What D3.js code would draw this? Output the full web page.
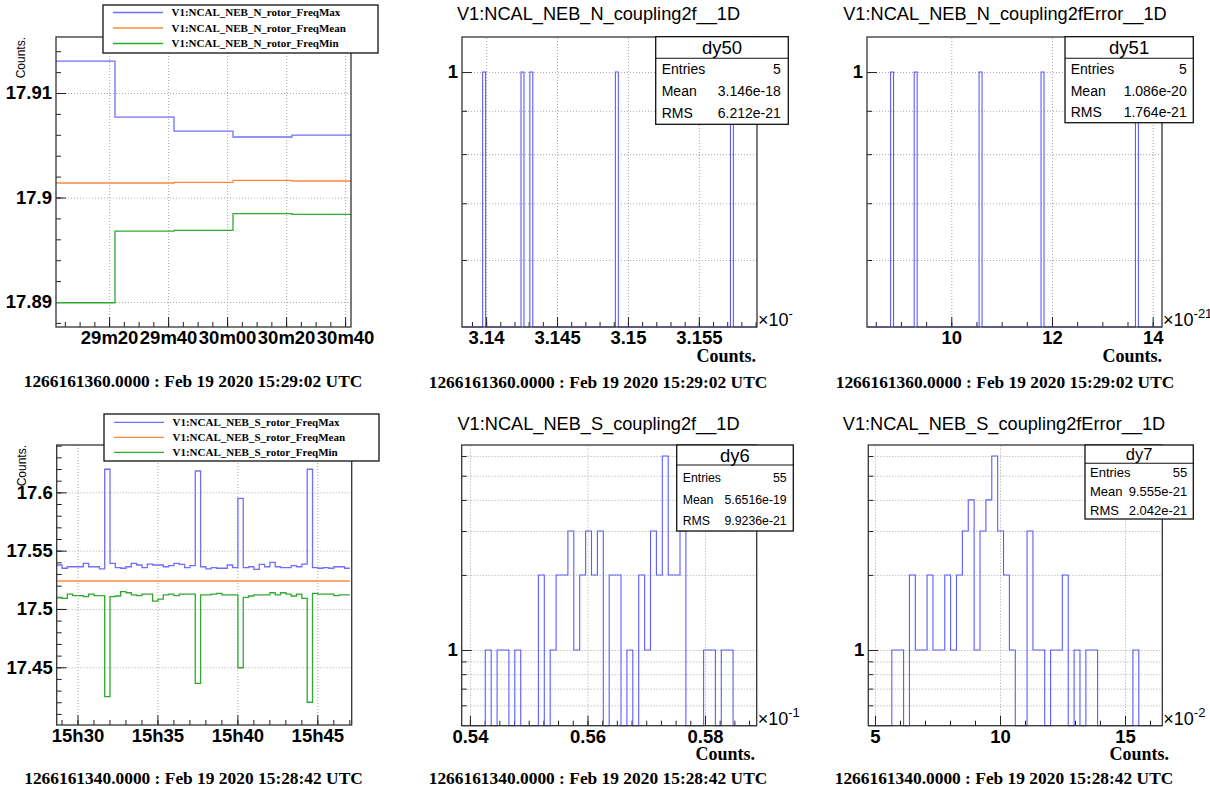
<!DOCTYPE html>
<html>
<head>
<meta charset="utf-8">
<script src="https://cdn.jsdelivr.net/npm/d3@7"></script>
<style>
body { margin: 0; background: #fff; }
svg { display: block; font-family: "Liberation Sans", Arial, sans-serif; }
.grid line { stroke: #a8a8a8; stroke-dasharray: 1,2; }
.grid path, .ax path { display: none; }
.ax line { stroke: #222; }
.ax text { font-family: "Liberation Sans", Arial, sans-serif; font-size: 18.5px; font-weight: bold; fill: #000; }
.title { font-size: 18.2px; }
.date { font-family: "Liberation Serif", "Times New Roman", serif; font-weight: bold; font-size: 17.4px; }
.xtitle { font-family: "Liberation Serif", "Times New Roman", serif; font-weight: bold; font-size: 18px; }
.ytitle { font-size: 12px; }
.leg text { font-family: "Liberation Serif", "Times New Roman", serif; font-weight: bold; font-size: 11px; }
.frame { fill: none; stroke: #333; stroke-width: 1.3; }
</style>
</head>
<body>
<script>
// ---- data ----
var binSeconds = 20;
var nStart = "2020-02-19T15:29:02Z";
var sStart = "2020-02-19T15:28:42Z";

var nFreqMax  = [17.91306, 17.90770, 17.90636, 17.90579, 17.90598];
var nFreqMean = [17.90139, 17.90139, 17.90145, 17.90165, 17.90158];
var nFreqMin  = [17.88993, 17.89679, 17.89686, 17.89845, 17.89839];

var sFreqMax = [17.5377, 17.5349, 17.5362, 17.5362, 17.5362, 17.5391, 17.5362, 17.5362, 17.5343, 17.6198,
  17.5391, 17.5354, 17.5349, 17.5362, 17.5391, 17.5377, 17.5354, 17.5385, 17.5377, 17.5377,
  17.5362, 17.5371, 17.5391, 17.5383, 17.5354, 17.5371, 17.6183, 17.5362, 17.5343, 17.5354,
  17.5349, 17.5349, 17.5377, 17.5354, 17.5949, 17.5354, 17.5362, 17.5340, 17.5383, 17.5362,
  17.5400, 17.5362, 17.5354, 17.5354, 17.5371, 17.5362, 17.5385, 17.6198, 17.5354, 17.5349,
  17.5354, 17.5349, 17.5362, 17.5362, 17.5349];
var sFreqMean = [17.524, 17.524, 17.524, 17.524, 17.524, 17.524, 17.524, 17.524, 17.524, 17.524,
  17.524, 17.524, 17.524, 17.524, 17.524, 17.524, 17.524, 17.524, 17.524, 17.524,
  17.524, 17.524, 17.524, 17.524, 17.524, 17.524, 17.524, 17.524, 17.524, 17.524,
  17.524, 17.524, 17.524, 17.524, 17.524, 17.524, 17.524, 17.524, 17.524, 17.524,
  17.524, 17.524, 17.524, 17.524, 17.524, 17.524, 17.524, 17.524, 17.524, 17.524,
  17.524, 17.524, 17.524, 17.524, 17.524];
var sFreqMin = [17.5100, 17.5091, 17.5128, 17.5114, 17.5114, 17.5105, 17.5128, 17.5114, 17.5114, 17.4248,
  17.5105, 17.5111, 17.5148, 17.5139, 17.5120, 17.5114, 17.5128, 17.5128, 17.5068, 17.5085,
  17.5120, 17.5128, 17.5114, 17.5128, 17.5128, 17.5128, 17.4362, 17.5120, 17.5120, 17.5128,
  17.5134, 17.5120, 17.5120, 17.5120, 17.4496, 17.5100, 17.5111, 17.5120, 17.5120, 17.5120,
  17.5139, 17.5120, 17.5139, 17.5128, 17.5111, 17.5128, 17.5091, 17.4200, 17.5134, 17.5128,
  17.5128, 17.5128, 17.5114, 17.5120, 17.5120];

// histogram entries (top row) and bin counts (bottom row)
var nCoupling = [3.13992, 3.14266, 3.14329, 3.14921, 3.15734];      // x1e-18
var nCouplingError = [8.802, 9.313, 10.600, 11.795, 13.708];        // x1e-21
var sCouplingCounts = [0, 0, 0, 0, 1, 0, 1, 1, 0, 1, 0, 0, 0, 2, 0, 1, 2, 2, 3, 1,
  2, 3, 2, 3, 0, 2, 2, 0, 1, 0, 2, 1, 3, 2, 6, 2, 2, 3, 0, 0,
  0, 1, 1, 0, 1, 1, 0, 0, 0, 0];
var sCouplingErrorCounts = [0, 0, 0, 0, 1, 1, 0, 2, 1, 1, 2, 1, 1, 2, 1, 2, 3, 4, 1, 3,
  4, 6, 3, 2, 1, 0, 0, 3, 1, 1, 0, 1, 1, 2, 0, 1, 0, 1, 1, 0,
  0, 0, 0, 0, 0, 1, 0, 0, 0, 0];

var nNames = ["V1:NCAL_NEB_N_rotor_FreqMax", "V1:NCAL_NEB_N_rotor_FreqMean", "V1:NCAL_NEB_N_rotor_FreqMin"];
var sNames = ["V1:NCAL_NEB_S_rotor_FreqMax", "V1:NCAL_NEB_S_rotor_FreqMean", "V1:NCAL_NEB_S_rotor_FreqMin"];
var seriesColors = ["#6f6fff", "#ff8838", "#2eaa2e"];
var histColor = "#5c5cff";

var nDate = "1266161360.0000 : Feb 19 2020 15:29:02 UTC";
var sDate = "1266161340.0000 : Feb 19 2020 15:28:42 UTC";

var svg = d3.select("body").append("svg").attr("width", 1210).attr("height", 791);

function steps(lo, hi, step) {
  var out = [], k = Math.ceil(lo / step - 1e-9);
  for (; k * step <= hi + 1e-9; k++) out.push(+(k * step).toFixed(10));
  return out;
}

function axes(g, x, y, o) {
  var l = x.range()[0], r = x.range()[1], b = y.range()[0], t = y.range()[1];
  g.append("g").attr("class", "grid").attr("transform", "translate(0," + b + ")")
    .call(d3.axisBottom(x).tickValues(o.xMajor).tickSize(-(b - t)).tickFormat(""));
  g.append("g").attr("class", "grid").attr("transform", "translate(" + l + ",0)")
    .call(d3.axisLeft(y).tickValues(o.yGrid).tickSize(-(r - l)).tickFormat(""));
  g.append("g").attr("class", "ax").attr("transform", "translate(0," + b + ")")
    .call(d3.axisBottom(x).tickValues(o.xMinor).tickSize(-5).tickFormat(""));
  g.append("g").attr("class", "ax").attr("transform", "translate(0," + b + ")")
    .call(d3.axisBottom(x).tickValues(o.xMajor).tickSize(-10).tickPadding(4).tickFormat(o.xFmt));
  g.append("g").attr("class", "ax").attr("transform", "translate(" + l + ",0)")
    .call(d3.axisLeft(y).tickValues(o.yMinor).tickSize(-5).tickFormat(""));
  g.append("g").attr("class", "ax").attr("transform", "translate(" + l + ",0)")
    .call(d3.axisLeft(y).tickValues(o.yMajor).tickSize(-10).tickPadding(4).tickFormat(o.yFmt));
}

function frame(g, x, y) {
  g.append("rect").attr("class", "frame")
    .attr("x", x.range()[0]).attr("y", y.range()[1])
    .attr("width", x.range()[1] - x.range()[0]).attr("height", y.range()[0] - y.range()[1]);
}

function stepPoints(start, values) {
  var t0 = Date.parse(start);
  var pts = values.map(function(v, i) { return { t: new Date(t0 + i * binSeconds * 1000), v: v }; });
  pts.push({ t: new Date(t0 + values.length * binSeconds * 1000), v: values[values.length - 1] });
  return pts;
}

function legend(g, box, names, rowY, rowGap) {
  var lg = g.append("g").attr("class", "leg");
  lg.append("rect").attr("x", box[0]).attr("y", box[1]).attr("width", box[2]).attr("height", box[3])
    .attr("fill", "#fff").attr("stroke", "#111").attr("stroke-width", 1.3);
  names.forEach(function(n, i) {
    var yy = box[1] + rowY + i * rowGap;
    lg.append("line").attr("x1", box[0] + 10).attr("x2", box[0] + 60).attr("y1", yy).attr("y2", yy)
      .attr("stroke", seriesColors[i]).attr("stroke-width", 1.3);
    lg.append("text").attr("x", box[0] + 68.5).attr("y", yy).attr("dy", "0.35em").text(n);
  });
}

function yTitle(g, xx, yy) {
  g.append("text").attr("class", "ytitle").attr("text-anchor", "end")
    .attr("transform", "translate(" + xx + "," + yy + ") rotate(-90)").text("Counts.");
}

function timePad(f, start, domain, series, names, o) {
  var g = svg.append("g");
  var x = d3.scaleUtc().domain(domain.map(function(d) { return new Date(d); })).range([f[0], f[2]]);
  var y = d3.scaleLinear().domain(o.yDomain).range([f[3], f[1]]);
  axes(g, x, y, {
    xMajor: x.ticks(o.xMajor), xMinor: x.ticks(o.xMinor), xFmt: d3.utcFormat(o.fmt),
    yMajor: y.ticks(o.yMajorN), yMinor: y.ticks(o.yMinorN), yGrid: y.ticks(o.yMajorN), yFmt: d3.format("")
  });
  var line = d3.line().x(function(d) { return x(d.t); }).y(function(d) { return y(d.v); }).curve(d3.curveStepAfter);
  series.forEach(function(s, i) {
    g.append("path").attr("d", line(stepPoints(start, s))).attr("fill", "none")
      .attr("stroke", seriesColors[i]).attr("stroke-width", 1.3);
  });
  frame(g, x, y);
  yTitle(g, o.yTitleX, f[1]);
  legend(g, o.legBox, names, o.legRowY, o.legGap);
  g.append("text").attr("class", "date").attr("x", o.dateX).attr("y", o.dateY)
    .attr("text-anchor", "middle").attr("dy", "0.35em").text(o.date);
}

function histPad(f, o) {
  var g = svg.append("g");
  var x = d3.scaleLinear().domain(o.xDomain).range([f[0], f[2]]);
  var y = d3.scaleLog().domain(o.yDomain).range([f[3], f[1]]);
  axes(g, x, y, {
    xMajor: steps(o.xDomain[0], o.xDomain[1], o.xMajor), xMinor: steps(o.xDomain[0], o.xDomain[1], o.xMinor),
    xFmt: function(d) { return String(+d.toFixed(6)); },
    yMajor: [1], yMinor: o.yMinor, yGrid: o.yMinor.concat([1]), yFmt: d3.format("")
  });
  // step outline of the histogram
  var lo = o.xDomain[0], hi = o.xDomain[1], w = (hi - lo) / o.counts.length, base = y.range()[0];
  var pts = [[x(lo), base]];
  o.counts.forEach(function(c, i) {
    var yy = c > 0 ? y(c) : base;
    pts.push([x(lo + i * w), yy], [x(lo + (i + 1) * w), yy]);
  });
  pts.push([x(hi), base]);
  g.append("path").attr("d", d3.line()(pts)).attr("fill", "none").attr("stroke", histColor).attr("stroke-width", 1.1);
  frame(g, x, y);

  g.append("text").attr("class", "title").attr("x", o.titleX).attr("y", o.titleY)
    .attr("text-anchor", "middle").attr("dy", "0.35em").text(o.title);
  g.append("text").attr("class", "xtitle").attr("x", o.xTitleX).attr("y", o.xTitleY)
    .attr("text-anchor", "end").attr("dy", "0.35em").text("Counts.");
  g.append("text").attr("class", "date").attr("x", o.dateX).attr("y", o.dateY)
    .attr("text-anchor", "middle").attr("dy", "0.35em").text(o.date);

  // exponent
  var ex = g.append("text").attr("x", f[2] + 1).attr("y", f[3] - 1).attr("font-size", 18).attr("clip-path", o.clip || null);
  ex.append("tspan").text("\u00d710");
  ex.append("tspan").attr("dy", -8).attr("font-size", 13).text(o.exponent);

  // stats box
  var s = o.stats, sb = g.append("g");
  sb.append("rect").attr("x", s.box[0]).attr("y", s.box[1]).attr("width", s.box[2]).attr("height", s.box[3])
    .attr("fill", "#fff").attr("stroke", "#111").attr("stroke-width", 1.3);
  sb.append("line").attr("x1", s.box[0]).attr("x2", s.box[0] + s.box[2])
    .attr("y1", s.box[1] + s.head).attr("y2", s.box[1] + s.head).attr("stroke", "#111").attr("stroke-width", 1.1);
  sb.append("text").attr("x", s.box[0] + s.box[2] / 2).attr("y", s.box[1] + s.head / 2 + 0.5)
    .attr("dy", "0.35em").attr("text-anchor", "middle").attr("font-size", s.headSize).text(s.name);
  s.rows.forEach(function(r, i) {
    var yy = s.rowY[i];
    sb.append("text").attr("x", s.box[0] + s.padL).attr("y", yy).attr("dy", "0.35em")
      .attr("font-size", s.size).text(r[0]);
    sb.append("text").attr("x", s.box[0] + s.box[2] - s.padR).attr("y", yy).attr("dy", "0.35em")
      .attr("text-anchor", "end").attr("font-size", s.size).text(r[1]);
  });
}

function binCounts(values, domain, n) {
  var edges = d3.range(1, n).map(function(i) { return domain[0] + i * (domain[1] - domain[0]) / n; });
  return d3.bin().domain(domain).thresholds(edges)(values).map(function(b) { return b.length; });
}

svg.append("defs").append("clipPath").attr("id", "clipMid")
  .append("rect").attr("x", 403).attr("y", 0).attr("width", 390).attr("height", 400);

// ---- top row ----
timePad([56, 37, 351, 327], nStart, ["2020-02-19T15:29:02Z", "2020-02-19T15:30:42Z"],
  [nFreqMax, nFreqMean, nFreqMin], nNames, {
    yDomain: [17.88761, 17.91536], yMajorN: 3, yMinorN: 14,
    xMajor: d3.utcSecond.every(20), xMinor: d3.utcSecond.every(5), fmt: "%Mm%S",
    yTitleX: 24.5, legBox: [103, 5, 275, 48], legRowY: 7.5, legGap: 15.5,
    dateX: 193, dateY: 381, date: nDate
  });

var nDomA = [3.1383, 3.1591];
histPad([462, 37, 757, 327], {
  xDomain: nDomA, xMajor: 0.005, xMinor: 0.001, yDomain: [0.5, 1.1], yMinor: [0.6, 0.7, 0.8, 0.9],
  counts: binCounts(nCoupling, nDomA, 100),
  title: "V1:NCAL_NEB_N_coupling2f__1D", titleX: 598.5, titleY: 14,
  xTitleX: 756, xTitleY: 356, dateX: 598, dateY: 381.5, date: nDate,
  exponent: "-18", clip: "url(#clipMid)",
  stats: { box: [655.7, 36.7, 132.6, 87.6], head: 21.6, headSize: 18.5, name: "dy50", size: 14, padL: 6, padR: 7.5,
    rowY: [69.5, 91.5, 113], rows: [["Entries", "5"], ["Mean", "3.146e-18"], ["RMS", "6.212e-21"]] }
});

var nDomB = [8.326, 14.185];
histPad([867, 37, 1162, 327], {
  xDomain: nDomB, xMajor: 2, xMinor: 0.5, yDomain: [0.5, 1.1], yMinor: [0.6, 0.7, 0.8, 0.9],
  counts: binCounts(nCouplingError, nDomB, 100),
  title: "V1:NCAL_NEB_N_coupling2fError__1D", titleX: 1005, titleY: 14,
  xTitleX: 1162, xTitleY: 356, dateX: 1005, dateY: 381.5, date: nDate,
  exponent: "-21",
  stats: { box: [1065, 36.7, 128.3, 86], head: 21.6, headSize: 18.5, name: "dy51", size: 14, padL: 5.7, padR: 6.6,
    rowY: [69.5, 91, 112], rows: [["Entries", "5"], ["Mean", "1.086e-20"], ["RMS", "1.764e-21"]] }
});

// ---- bottom row ----
timePad([56.7, 445, 351.7, 725], sStart, ["2020-02-19T15:28:42Z", "2020-02-19T15:47:09Z"],
  [sFreqMax, sFreqMean, sFreqMin], sNames, {
    yDomain: [17.4005, 17.6406], yMajorN: 5, yMinorN: 24,
    xMajor: d3.utcMinute.every(5), xMinor: d3.utcMinute.every(1), fmt: "%Hh%M",
    yTitleX: 26, legBox: [104, 414, 275, 47], legRowY: 8.3, legGap: 15,
    dateX: 193.5, dateY: 778, date: sDate
  });

histPad([461.7, 445, 756.7, 725.7], {
  xDomain: [0.5386, 0.5888], xMajor: 0.02, xMinor: 0.0025, yDomain: [0.497, 6.64],
  yMinor: [0.6, 0.7, 0.8, 0.9, 2, 3, 4, 5, 6],
  counts: sCouplingCounts,
  title: "V1:NCAL_NEB_S_coupling2f__1D", titleX: 598.5, titleY: 424,
  xTitleX: 755, xTitleY: 754, dateX: 598, dateY: 778.3, date: sDate,
  exponent: "-1",
  stats: { box: [676.7, 445, 116.6, 86], head: 20, headSize: 18.5, name: "dy6", size: 12.3, padL: 6, padR: 6.6,
    rowY: [477.3, 499.3, 520.7], rows: [["Entries", "55"], ["Mean", "5.6516e-19"], ["RMS", "9.9236e-21"]] }
});

histPad([868.3, 445, 1162.3, 725.7], {
  xDomain: [4.732, 16.492], xMajor: 5, xMinor: 1, yDomain: [0.497, 6.64],
  yMinor: [0.6, 0.7, 0.8, 0.9, 2, 3, 4, 5, 6],
  counts: sCouplingErrorCounts,
  title: "V1:NCAL_NEB_S_coupling2fError__1D", titleX: 1004, titleY: 424,
  xTitleX: 1169, xTitleY: 754, dateX: 1004, dateY: 778.3, date: sDate,
  exponent: "-2",
  stats: { box: [1085, 445, 108.3, 74], head: 18.3, headSize: 16.5, name: "dy7", size: 13, padL: 5, padR: 6,
    rowY: [472.7, 491.7, 510], rows: [["Entries", "55"], ["Mean", "9.555e-21"], ["RMS", "2.042e-21"]] }
});
</script>
</body>
</html>
